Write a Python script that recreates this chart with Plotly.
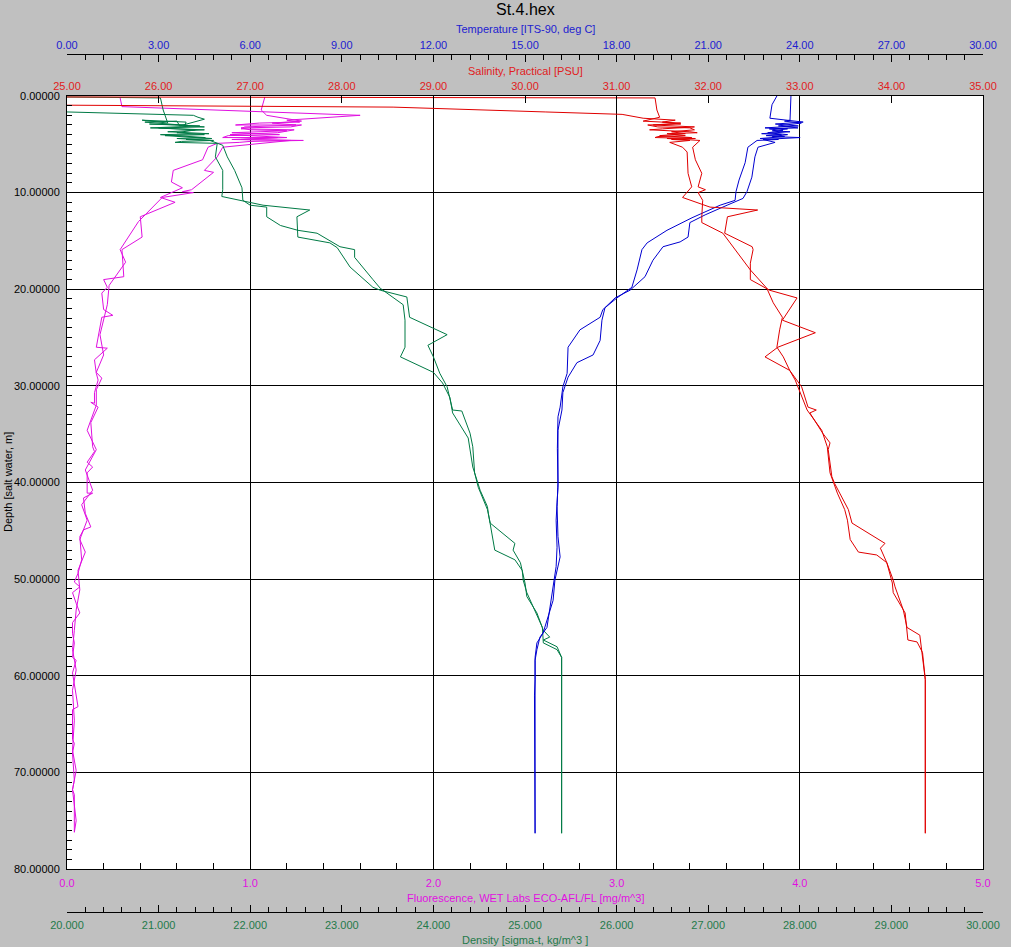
import plotly.graph_objects as go

# ---- data (down cast, then up cast) ----
temp_down_depth = [0.0, 0.9, 2.3, 2.6, 2.7, 2.9, 3.1, 3.3, 3.4, 3.6, 3.7, 3.9, 4.0, 4.1, 4.2, 4.4, 4.5, 4.6,
                   5.3, 6.9, 8.7, 9.9, 10.8, 11.3, 12.6, 13.9, 15.2, 15.9, 18.0, 19.8, 20.9, 22.1, 22.9, 24.2,
                   26.0, 28.7, 30.1, 32.2, 33.2, 36.5, 40.1, 42.5, 45.6, 47.7, 50.1, 52.2, 53.9, 55.6, 56.6,
                   58.1, 60.4, 62.0, 76.3]
temp_down = [23.25, 23.09, 23.02, 23.90, 24.11, 23.20, 23.95, 22.86, 23.60, 23.10, 23.68, 22.75, 23.40,
             22.90, 23.50, 22.70, 23.30, 22.60, 22.30, 22.21, 22.01, 21.91, 21.88, 21.39, 20.47, 19.65,
             19.00, 18.83, 18.67, 18.50, 18.01, 17.55, 17.46, 16.80, 16.41, 16.38, 16.24, 16.15, 16.08,
             16.06, 16.08, 16.05, 16.08, 16.15, 15.98, 15.92, 15.75, 15.59, 15.39, 15.33, 15.33, 15.31,
             15.33]
temp_up_depth = [76.3, 58.4, 57.3, 56.0, 55.0, 52.9, 51.1, 48.7, 46.7, 43.9, 42.1, 40.5, 34.6, 32.5, 30.7,
                 29.1, 27.6, 27.0, 26.8, 25.3, 23.2, 21.9, 20.9, 20.1, 18.7, 17.0, 15.6, 15.1, 14.6, 13.1,
                 12.3, 11.3, 10.6, 9.9, 8.4, 6.3, 5.3, 4.8, 4.5, 4.3, 4.2, 4.0, 3.8, 3.6, 3.4, 3.3, 3.1,
                 2.8, 2.6, 2.5, 0.9, 0.0]
temp_up = [15.33, 15.33, 15.39, 15.49, 15.72, 15.82, 15.92, 16.02, 16.05, 16.02, 16.05, 16.08, 16.08, 16.21,
           16.24, 16.41, 16.70, 17.13, 17.23, 17.46, 17.52, 17.62, 17.95, 18.44, 18.93, 19.19, 19.52,
           20.08, 20.34, 20.40, 20.90, 21.62, 22.14, 22.27, 22.43, 22.53, 22.63, 23.19, 22.80, 24.01,
           23.10, 23.60, 22.95, 23.45, 23.00, 23.94, 23.30, 24.05, 23.50, 23.68, 23.71, 23.71]

sal_down_depth = [0.1, 0.2, 1.45, 2.2, 2.6, 2.8, 3.0, 3.2, 3.4, 3.5, 3.7, 3.8, 3.9, 4.1, 4.2, 4.3, 4.4, 4.5,
                  4.6, 4.8, 5.3, 5.8, 8.0, 9.4, 10.5, 11.5, 11.8, 12.5, 14.2, 15.6, 15.9, 17.3, 19.0, 19.8,
                  20.1, 20.9, 23.2, 24.5, 26.0, 27.0, 28.4, 30.1, 32.2, 32.5, 32.8, 34.9, 35.9, 36.6, 39.4,
                  40.1, 41.5, 42.8, 44.2, 46.3, 46.8, 48.3, 50.1, 50.8, 53.2, 55.0, 55.8, 58.1, 60.4, 76.3]
sal_down = [25.00, 31.42, 31.44, 31.47, 31.29, 31.70, 31.40, 31.85, 31.50, 31.36, 31.80, 31.88, 31.55,
            31.75, 31.45, 31.42, 31.86, 31.60, 31.80, 31.58, 31.72, 31.77, 31.78, 31.82, 31.72, 32.02,
            32.54, 32.21, 32.18, 32.48, 32.49, 32.46, 32.46, 32.62, 32.67, 32.97, 32.81, 33.17, 32.76,
            32.62, 32.89, 33.02, 33.09, 33.18, 33.11, 33.25, 33.33, 33.31, 33.35, 33.38, 33.46, 33.53,
            33.57, 33.93, 33.88, 33.95, 34.02, 34.04, 34.13, 34.17, 34.31, 34.34, 34.37, 34.37]
sal_up_depth = [76.3, 60.4, 57.6, 56.5, 56.3, 53.5, 51.4, 50.4, 48.3, 47.5, 47.2, 45.9, 43.9, 42.8, 41.1,
                39.0, 36.3, 34.6, 32.5, 30.7, 29.4, 28.4, 27.0, 26.0, 24.2, 22.9, 21.4, 19.9, 18.0, 14.2,
                13.1, 12.5, 10.8, 10.0, 9.7, 9.4, 8.0, 6.6, 5.3, 4.6, 4.4, 4.3, 4.1, 3.9, 3.7, 3.5, 3.3,
                3.2, 3.0, 2.9, 2.7, 2.5, 2.3, 1.9, 1.75, 1.65, 1.15, 0.95]
sal_up = [34.37, 34.37, 34.34, 34.28, 34.18, 34.15, 34.02, 34.01, 33.95, 33.84, 33.64, 33.55, 33.52, 33.49,
          33.41, 33.33, 33.30, 33.24, 33.08, 33.00, 32.95, 32.89, 32.82, 32.75, 32.78, 32.81, 32.71,
          32.64, 32.46, 32.16, 31.93, 31.93, 31.94, 31.89, 31.97, 31.89, 31.93, 31.86, 31.83, 31.91,
          31.55, 31.82, 31.47, 31.75, 31.60, 31.85, 31.80, 31.45, 31.34, 31.70, 31.50, 31.64, 31.29,
          31.06, 30.63, 30.22, 28.56, 25.00]

fl_down_depth = [0.2, 1.1, 2.0, 2.5, 2.7, 2.8, 3.0, 3.0, 3.2, 3.3, 3.5, 3.6, 3.8, 4.0, 4.1, 4.3, 4.3, 4.5,
                 4.6, 4.7, 4.8, 4.9, 5.3, 6.6, 7.7, 8.9, 9.5, 10.5, 11.0, 12.5, 14.6, 15.9, 18.7, 19.0,
                 19.8, 20.4, 22.1, 22.7, 22.9, 26.0, 26.1, 27.3, 28.7, 29.4, 30.7, 31.8, 31.7, 32.2, 33.8,
                 36.3, 36.8, 37.9, 38.4, 39.0, 41.1, 41.1, 41.6, 43.2, 44.6, 44.9, 45.6, 48.0, 49.4, 50.3,
                 50.8, 51.4, 52.5, 53.5, 54.5, 55.6, 56.6, 58.1, 58.4, 59.7, 63.2, 63.5, 65.6, 66.6, 67.0,
                 68.0, 70.8, 71.8, 72.3, 76.2]
fl_down = [0.29, 0.30, 1.60, 1.20, 1.27, 1.05, 0.92, 1.28, 1.22, 0.95, 1.00, 1.20, 0.90, 1.16, 0.88, 0.85,
           1.15, 0.95, 1.29, 1.00, 0.94, 0.82, 0.77, 0.74, 0.58, 0.57, 0.63, 0.51, 0.59, 0.40, 0.41, 0.30,
           0.31, 0.20, 0.22, 0.19, 0.20, 0.25, 0.19, 0.16, 0.22, 0.15, 0.16, 0.17, 0.15, 0.15, 0.13, 0.17,
           0.13, 0.14, 0.15, 0.11, 0.14, 0.11, 0.11, 0.14, 0.09, 0.10, 0.13, 0.09, 0.07, 0.08, 0.06, 0.04,
           0.07, 0.03, 0.05, 0.07, 0.03, 0.03, 0.04, 0.03, 0.05, 0.03, 0.06, 0.03, 0.03, 0.03, 0.04, 0.03,
           0.04, 0.03, 0.04, 0.04]
fl_up_depth = [76.2, 75.0, 71.8, 69.8, 67.7, 64.6, 61.5, 59.4, 57.3, 55.3, 53.2, 51.1, 49.1, 47.2, 45.9,
               43.9, 42.3, 40.8, 38.7, 36.6, 34.6, 32.0, 30.4, 29.2, 28.6, 26.8, 24.7, 21.6, 19.6, 17.2,
               15.9, 13.0, 10.5, 10.0, 9.9, 9.7, 7.9, 7.7, 6.3, 5.3, 4.8, 4.6, 4.5, 4.3, 4.0, 3.8, 3.5,
               3.4, 3.2, 3.0, 2.8, 2.6, 2.0, 1.45, 0.1]
fl_up = [0.04, 0.05, 0.03, 0.05, 0.03, 0.04, 0.03, 0.05, 0.03, 0.04, 0.05, 0.07, 0.06, 0.10, 0.07, 0.11,
         0.08, 0.14, 0.10, 0.16, 0.11, 0.16, 0.16, 0.19, 0.16, 0.20, 0.18, 0.22, 0.23, 0.32, 0.29, 0.39,
         0.52, 0.69, 0.63, 0.68, 0.80, 0.75, 0.82, 0.85, 1.10, 1.22, 0.90, 1.20, 0.89, 1.15, 1.24, 0.95,
         0.97, 1.25, 1.12, 1.28, 1.09, 1.06, 1.08]

dens_down_depth = [0.1, 0.2, 1.45, 2.8, 2.5, 2.7, 3.0, 2.9, 3.1, 3.3, 3.5, 3.7, 3.9, 4.0, 4.2, 4.3, 4.4,
                   4.6, 4.7, 4.8, 4.9, 6.3, 7.7, 9.7, 10.4, 11.0, 11.3, 11.8, 12.5, 14.6, 15.2, 15.7, 17.7,
                   19.8, 20.1, 20.8, 22.9, 24.7, 25.8, 27.0, 28.7, 30.1, 32.5, 32.6, 34.9, 36.3, 39.0, 40.5,
                   42.8, 44.2, 46.3, 47.0, 48.3, 50.4, 51.8, 53.5, 55.3, 56.0, 56.3, 57.0, 58.1, 76.3]
dens_down = [20.00, 21.02, 21.05, 21.10, 20.82, 21.30, 21.29, 20.90, 21.45, 20.91, 21.50, 21.10, 21.55,
             21.02, 21.40, 21.51, 21.20, 21.60, 21.25, 21.18, 21.64, 21.62, 21.70, 21.70, 21.69, 22.00,
             22.14, 22.65, 22.51, 22.52, 22.87, 22.95, 23.09, 23.34, 23.42, 23.71, 23.74, 24.15, 23.94,
             24.00, 24.07, 24.15, 24.21, 24.31, 24.40, 24.43, 24.45, 24.49, 24.59, 24.62, 24.89, 24.87,
             24.95, 25.00, 25.02, 25.13, 25.20, 25.27, 25.20, 25.35, 25.40, 25.40]
dens_up_depth = [76.3, 58.1, 57.3, 56.6, 55.0, 53.9, 51.4, 50.1, 49.1, 48.0, 47.0, 43.2, 42.5, 40.8, 38.4,
                 35.4, 32.8, 31.2, 29.7, 28.6, 27.0, 26.0, 23.2, 21.6, 19.9, 19.0, 16.7, 15.9, 15.6, 14.2,
                 13.9, 13.4, 12.5, 11.5, 11.3, 10.8, 9.5, 7.7, 6.3, 5.1, 4.6, 4.5, 4.4, 4.1, 4.0, 3.8, 3.5,
                 3.3, 3.2, 2.7, 2.6, 3.1, 2.4, 2.2, 2.0, 1.65]
dens_up = [25.40, 25.40, 25.35, 25.20, 25.19, 25.14, 25.02, 24.98, 24.97, 24.89, 24.67, 24.60, 24.59, 24.51,
           24.43, 24.38, 24.21, 24.18, 24.10, 24.00, 23.64, 23.69, 23.69, 23.67, 23.42, 23.34, 23.14,
           23.14, 22.98, 22.73, 22.52, 22.33, 22.18, 22.18, 22.00, 21.92, 21.91, 21.83, 21.75, 21.70,
           21.56, 21.30, 21.58, 21.07, 21.50, 21.20, 21.40, 21.00, 21.50, 20.85, 21.20, 21.23, 21.50,
           21.43, 21.38, 20.00]

W, H = 1011, 947


def px(x):
    return x / W


def py(y):
    return 1 - y / H


fig = go.Figure()

fig.add_trace(go.Scatter(x=fl_down + fl_up, y=fl_down_depth + fl_up_depth, xaxis="x", yaxis="y",
                         mode="lines", line=dict(color="#e010e0", width=1)))
fig.add_trace(go.Scatter(x=dens_down + dens_up, y=dens_down_depth + dens_up_depth, xaxis="x2", yaxis="y",
                         mode="lines", line=dict(color="#007a45", width=1)))
fig.add_trace(go.Scatter(x=sal_down + sal_up, y=sal_down_depth + sal_up_depth, xaxis="x4", yaxis="y",
                         mode="lines", line=dict(color="#e00000", width=1)))
fig.add_trace(go.Scatter(x=temp_down + temp_up, y=temp_down_depth + temp_up_depth, xaxis="x3", yaxis="y",
                         mode="lines", line=dict(color="#0000d0", width=1)))

font = "Liberation Sans, Arial, sans-serif"
dom_x = [px(67), px(983)]
dom_y = [py(869), py(96)]

common = dict(showline=True, linecolor="black", linewidth=1, ticks="inside", tickcolor="black",
              zeroline=False, automargin=False, fixedrange=True)

fig.update_layout(
    width=W, height=H,
    margin=dict(l=0, r=0, t=0, b=0),
    paper_bgcolor="#c0c0c0", plot_bgcolor="white",
    showlegend=False, hovermode=False,
    font=dict(family=font, size=11, color="black"),
    xaxis=dict(common, domain=dom_x, anchor="y", side="bottom", range=[0, 5], dtick=1, tickformat=".1f",
               ticklen=6, minor=dict(dtick=0.2, ticks="inside", ticklen=6, tickcolor="black"),
               showgrid=True, gridcolor="black", gridwidth=1, mirror=True,
               tickfont=dict(color="#e010e0"), ticklabelstandoff=4),
    xaxis2=dict(common, overlaying="x", anchor="free", position=py(912), side="bottom", range=[20, 30],
                dtick=1, tickformat=".3f", ticklen=7,
                minor=dict(dtick=0.2, ticks="inside", ticklen=5, tickcolor="black"),
                showgrid=False, tickfont=dict(color="#1f7a4a"), ticklabelstandoff=3),
    xaxis3=dict(common, overlaying="x", anchor="free", position=py(54), side="top", range=[0, 30],
                dtick=3, tickformat=".2f", ticklen=7,
                minor=dict(dtick=0.6, ticks="inside", ticklen=5, tickcolor="black"),
                showgrid=False, tickfont=dict(color="#2020d0"), ticklabelstandoff=1),
    xaxis4=dict(common, overlaying="x", anchor="y", side="top", range=[25, 35], dtick=1,
                tickformat=".2f", ticklen=7, showgrid=False, tickfont=dict(color="#e02020"),
                ticklabelstandoff=1),
    yaxis=dict(common, domain=dom_y, range=[80, 0], dtick=10, tickformat=".5f", ticklen=6,
               minor=dict(dtick=1, ticks="inside", ticklen=5, tickcolor="black"),
               showgrid=True, gridcolor="black", gridwidth=1, mirror=True, ticklabelstandoff=4),
)

titles = [
    ("St.4.hex", 525, 10, "black", 16, 0),
    ("Temperature [ITS-90, deg C]", 525, 29, "#2020d0", 11, 0),
    ("Salinity, Practical [PSU]", 525, 71, "#e02020", 11, 0),
    ("Fluorescence, WET Labs ECO-AFL/FL [mg/m^3]", 525, 898, "#e010e0", 11, 0),
    ("Density [sigma-t, kg/m^3 ]", 525, 940, "#1f7a4a", 11, 0),
    ("Depth [salt water, m]", 8, 482, "black", 11, -90),
]
for text, x, y, color, size, angle in titles:
    fig.add_annotation(text=text, x=px(x), y=py(y), xref="paper", yref="paper", showarrow=False,
                       xanchor="center", yanchor="middle", textangle=angle,
                       font=dict(family=font, size=size, color=color))

fig.write_html("out.html", config={"displayModeBar": False},
               post_script="document.body.style.margin='0';")
